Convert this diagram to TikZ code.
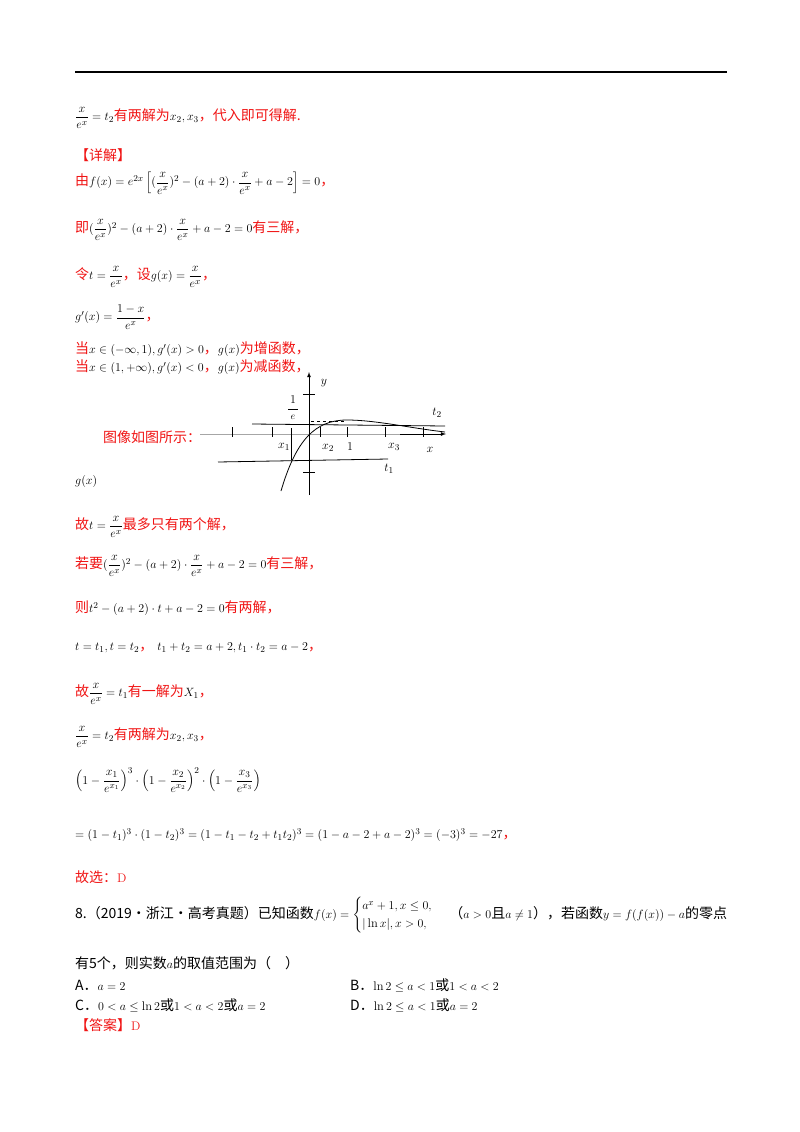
\documentclass[tikz,border=0pt]{standalone}
\usepackage{amsmath}
\usepackage{fontspec}
\newfontfamily\cjk[Scale=1.12]{Noto Sans CJK SC}
\definecolor{rd}{RGB}{240,20,20}
\newcommand{\R}[1]{\textcolor{rd}{\cjk #1}}
\newcommand{\xe}{\dfrac{x}{e^{x}}}
\begin{document}
\begin{tikzpicture}[x=1pt,y=-1pt,
  tl/.style={anchor=west,inner sep=0pt,font=\fontsize{12.5}{15}\selectfont},
  ax/.style={line width=0.8pt},
  lb/.style={inner sep=0pt,font=\fontsize{12.5}{15}\selectfont}]
\useasboundingbox (0,0) rectangle (800,1132);
\draw[line width=1.2pt] (75,72) -- (727,72);
\node[tl] (l1) at (75,118) {$\dfrac{x}{e^{x}}=t_2$\R{有两解为}$x_2,x_3$\R{，代入即可得解.}};
\node[tl] (l2) at (75,155) {\R{【详解】}};
\node[tl] (l3) at (75,183) {\R{由}$f(x)=e^{2x}\left[(\xe)^2-(a+2)\cdot\xe+a-2\right]=0$\R{，}};
\node[tl] (l4) at (75,230) {\R{即}$(\xe)^2-(a+2)\cdot\xe+a-2=0$\R{有三解，}};
\node[tl] (l5) at (75,277) {\R{令}$t=\xe$\R{，设}$g(x)=\xe$\R{，}};
\node[tl] (l6) at (75,317) {$g'(x)=\dfrac{1-x}{e^{x}}$\R{，}};
\node[tl] (l7) at (75,349) {\R{当}$x\in(-\infty,1),g'(x)>0$\R{，}$g(x)$\R{为增函数，}};
\node[tl] (l8) at (75,367) {\R{当}$x\in(1,+\infty),g'(x)<0$\R{，}$g(x)$\R{为减函数，}};
% graph
\node[tl] (cap) at (103,437) {\R{图像如图所示：}};
\draw[ax,gray!70] (200,434) -- (435,434);
\draw[-latex,ax] (400,434) -- (446,434);
\draw[-latex,ax] (309,495) -- (309,372);
\foreach \t in {232,272,320,347,385,423} \draw (\t,427) -- (\t,437);
\draw (303,394) -- (315,394);
\draw (303,472) -- (315,472);
\draw[ax] (252,424) -- (445,426);
\draw[ax] (218,462) -- (388,459);
\draw[ax] (291,428) -- (291,460);
\draw[dashed] (311,421) -- (345,421);
\draw[ax] (281,491) .. controls (296,440) and (315,420) .. (347,420)
  .. controls (375,420) and (410,428) .. (445,432);
\node[lb] (oe) at (293,400) {$1$};
\draw (288,409) -- (298,409);
\node[lb,font=\fontsize{10}{12}\selectfont] (e) at (293,417) {$e$};
\node[lb] (y) at (324,383) {$y$};
\node[lb] (x1) at (284,447) {$x_1$};
\node[lb] (x2) at (328,448) {$x_2$};
\node[lb] (one) at (350,447) {$1$};
\node[lb] (x3) at (394,447) {$x_3$};
\node[lb] (xx) at (430,450) {$x$};
\node[lb] (t2) at (437,413) {$t_2$};
\node[lb] (t1) at (389,469) {$t_1$};
\node[tl] (gx) at (75,481) {$g(x)$};
\node[tl] (l9) at (75,527) {\R{故}$t=\xe$\R{最多只有两个解，}};
\node[tl] (l10) at (75,566) {\R{若要}$(\xe)^2-(a+2)\cdot\xe+a-2=0$\R{有三解，}};
\node[tl] (l11) at (75,608) {\R{则}$t^2-(a+2)\cdot t+a-2=0$\R{有两解，}};
\node[tl] (l12) at (75,648) {$t=t_1,t=t_2$\R{，}\ $t_1+t_2=a+2,t_1\cdot t_2=a-2$\R{，}};
\node[tl] (l13) at (75,694) {\R{故}$\xe=t_1$\R{有一解为}$X_1$\R{，}};
\node[tl] (l14) at (75,737) {$\xe=t_2$\R{有两解为}$x_2,x_3$\R{，}};
\node[tl] (l15) at (75,780) {$\left(1-\dfrac{x_1}{e^{x_1}}\right)^3\cdot\left(1-\dfrac{x_2}{e^{x_2}}\right)^2\cdot\left(1-\dfrac{x_3}{e^{x_3}}\right)$};
\node[tl] (l16) at (75,835) {$=(1-t_1)^3\cdot(1-t_2)^3=(1-t_1-t_2+t_1t_2)^3=(1-a-2+a-2)^3=(-3)^3=-27$\R{，}};
\node[tl] (l17) at (75,877) {\R{故选：}\textcolor{rd}{D}};
\node[tl] (l18) at (75,915) {{\cjk 8.（2019·浙江·高考真题）已知函数}$f(x)=\begin{cases}a^x+1,x\le 0,\\ |\ln x|,x>0,\end{cases}$ {\cjk（}$a>0${\cjk 且}$a\ne1${\cjk ），若函数}$y=f(f(x))-a${\cjk 的零点}};
\node[tl] (l19) at (75,963) {{\cjk 有5个，则实数}$a${\cjk 的取值范围为（\quad ）}};
\node[tl] (a) at (75,985) {{\cjk A．}$a=2$};
\node[tl] (b) at (350,985) {{\cjk B．}$\ln2\le a<1${\cjk 或}$1<a<2$};
\node[tl] (c) at (75,1005) {{\cjk C．}$0<a\le\ln2${\cjk 或}$1<a<2${\cjk 或}$a=2$};
\node[tl] (d) at (350,1005) {{\cjk D．}$\ln2\le a<1${\cjk 或}$a=2$};
\node[tl] (ans) at (75,1025) {\R{【答案】}\textcolor{rd}{D}};
\end{tikzpicture}
\end{document}
